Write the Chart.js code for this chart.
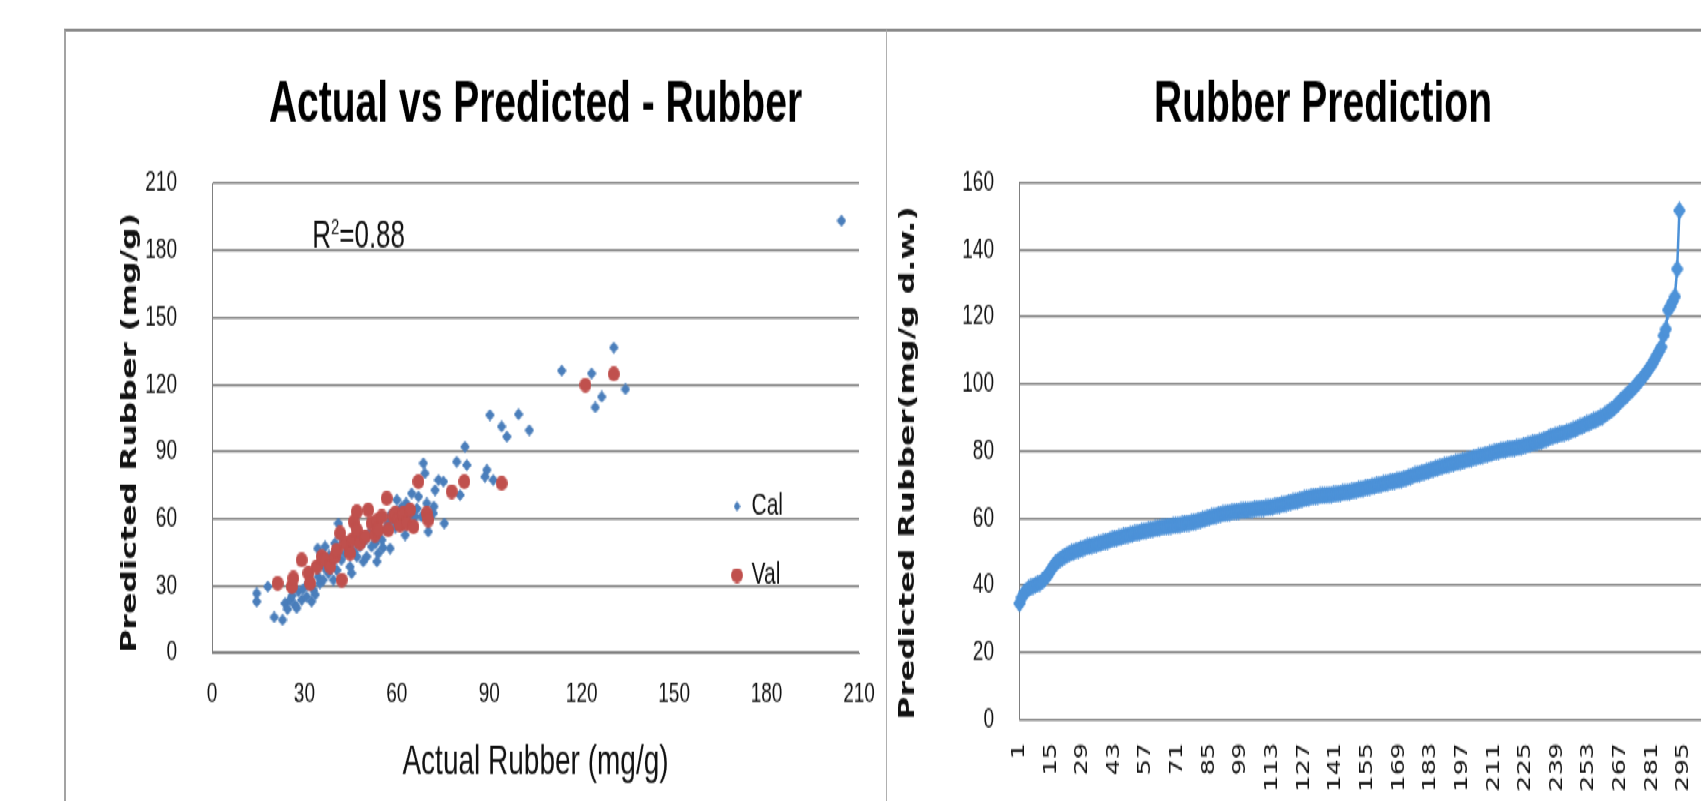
<!DOCTYPE html>
<html>
<head>
<meta charset="utf-8">
<title>Rubber prediction</title>
<script src="https://cdn.jsdelivr.net/npm/chart.js@4.4.1/dist/chart.umd.min.js"></script>
<style>
  html, body { margin: 0; padding: 0; background: #fff; }
  body { width: 1701px; height: 801px; overflow: hidden; position: relative; }
  /* the original screenshot is stretched vertically: draw flat, then stretch */
  #stage { position: absolute; left: 0; top: 0; width: 1701px; height: 534px; transform: scaleY(1.5); transform-origin: 0 0; }
  .frame { position: absolute; top: 18.7px; height: 520px; box-sizing: border-box; border-top: 2px solid #8a8a8a; }
  #leftFrame { left: 64px; width: 823px; border-left: 2px solid #a3a3a3; border-right: 1px solid #b0b0b0; }
  #rightFrame { left: 887px; width: 814px; }
  canvas { position: absolute; top: 20px; }
  #scatterChart { left: 66px; }
  #lineChart { left: 887px; }
</style>
</head>
<body>
<div id="stage">
  <div class="frame" id="leftFrame"></div>
  <div class="frame" id="rightFrame"></div>
  <canvas id="scatterChart" width="820" height="514"></canvas>
  <canvas id="lineChart" width="880" height="514"></canvas>
</div>
<script>
// --- data ---
const calActual = [14.5, 14.5, 18.1, 20.2, 22.9, 23.7, 24.5, 25.3, 26.0, 26.9, 27.5, 28.0, 29.1, 29.5, 30.7, 31.0,
  32.3, 32.9, 33.5, 34.3, 34.5, 35.0, 36.1, 36.5, 36.7, 37.8, 38.0, 38.8, 39.4, 39.9, 40.5, 41.0, 41.6, 42.0,
  43.2, 44.0, 44.8, 45.3, 46.0, 47.0, 47.5, 48.0, 49.1, 49.5, 50.2, 51.0, 51.8, 52.5, 53.0, 53.5, 54.0, 55.1,
  55.5, 56.2, 57.2, 57.8, 58.0, 58.9, 59.5, 60.0, 61.0, 61.5, 62.1, 62.7, 63.0, 63.7, 64.8, 65.9, 66.5, 67.0,
  68.0, 68.6, 69.1, 69.7, 70.2, 70.5, 71.8, 72.0, 72.4, 73.5, 75.1, 75.4, 79.4, 80.5, 82.1, 82.7, 88.6, 89.2,
  90.2, 91.3, 94.0, 95.7, 99.5, 103.0, 113.5, 123.2, 124.4, 126.5, 130.4, 134.2, 204.3];
const calPredicted = [26.6, 22.9, 29.6, 15.9, 14.7, 22.1, 19.5, 23.6, 25.5, 21.4, 20.0, 27.4, 23.6, 28.5, 25.1, 30.5,
  22.9, 28.1, 26.0, 46.7, 34.0, 31.1, 32.6, 38.0, 47.5, 35.6, 43.5, 40.0, 32.6, 49.0, 37.0, 57.9, 52.0, 41.5,
  44.5, 48.0, 38.5, 35.6, 45.5, 43.0, 52.5, 47.5, 40.8, 50.0, 43.0, 53.5, 47.5, 58.0, 49.0, 40.8, 44.5, 50.5,
  47.0, 55.0, 57.9, 46.7, 62.0, 59.4, 56.0, 68.4, 63.9, 65.0, 59.4, 52.7, 67.0, 60.9, 71.3, 60.9, 64.5, 69.9,
  61.0, 84.8, 80.3, 66.9, 54.2, 60.0, 62.4, 65.5, 72.8, 77.3, 76.6, 57.9, 85.5, 70.6, 92.2, 84.0, 78.8, 81.8,
  106.4, 77.3, 101.2, 96.7, 106.7, 99.6, 126.2, 125.0, 109.8, 114.5, 136.6, 117.9, 193.3];
const valActual = [21.3, 25.9, 26.4, 29.1, 31.3, 31.8, 34.0, 35.6, 36.7, 38.3, 39.9, 40.5, 41.6, 42.1, 43.2, 44.8,
  45.5, 46.0, 47.0, 47.0, 48.0, 49.7, 50.7, 51.8, 52.9, 53.5, 54.0, 55.1, 56.7, 57.2, 58.9, 59.5, 60.5, 61.0,
  62.1, 63.2, 64.3, 65.4, 67.0, 69.7, 70.2, 77.8, 81.9, 94.0, 121.2, 130.4];
const valPredicted = [31.1, 29.6, 33.3, 41.5, 35.6, 31.1, 38.5, 43.0, 41.5, 38.5, 43.0, 46.0, 53.5, 32.6, 49.0, 44.5,
  50.5, 58.5, 63.1, 55.0, 49.0, 52.0, 63.9, 57.9, 52.7, 59.0, 55.0, 60.9, 69.1, 55.0, 60.9, 62.5, 59.4, 57.0,
  62.4, 57.9, 63.9, 56.4, 76.6, 62.4, 59.4, 72.1, 76.6, 75.8, 119.8, 124.7];
const scatterTicks = [0, 30, 60, 90, 120, 150, 180, 210];
const r2Text = ['R', '2', '=0.88'];
const r2At = [32.5, 181];

// sorted predictions, one per sample
const predictedRubber = [
  34.6, 36.4, 37.7, 38.5, 39.0, 39.4, 39.8, 40.1, 40.4, 40.7,
  41.2, 41.9, 42.6, 43.6, 44.7, 45.8, 46.6, 47.2, 47.8, 48.3,
  48.7, 49.1, 49.4, 49.7, 50.0, 50.3, 50.5, 50.8, 51.0, 51.3,
  51.5, 51.7, 51.9, 52.0, 52.2, 52.4, 52.6, 52.8, 53.0, 53.2,
  53.5, 53.7, 53.9, 54.0, 54.2, 54.4, 54.6, 54.8, 55.0, 55.1,
  55.3, 55.5, 55.6, 55.8, 56.0, 56.2, 56.3, 56.4, 56.6, 56.7,
  56.9, 57.0, 57.2, 57.3, 57.4, 57.5, 57.6, 57.7, 57.8, 57.9,
  58.0, 58.1, 58.2, 58.4, 58.5, 58.6, 58.7, 58.9, 59.0, 59.2,
  59.4, 59.6, 59.8, 60.0, 60.2, 60.4, 60.6, 60.8, 61.0, 61.2,
  61.3, 61.4, 61.6, 61.7, 61.8, 61.9, 62.0, 62.1, 62.2, 62.3,
  62.3, 62.4, 62.5, 62.6, 62.7, 62.8, 62.9, 63.0, 63.0, 63.1,
  63.2, 63.3, 63.4, 63.6, 63.8, 63.9, 64.1, 64.2, 64.4, 64.6,
  64.8, 64.9, 65.1, 65.2, 65.4, 65.6, 65.8, 66.0, 66.1, 66.3,
  66.4, 66.5, 66.6, 66.7, 66.8, 66.8, 66.9, 67.0, 67.0, 67.1,
  67.2, 67.3, 67.4, 67.6, 67.7, 67.8, 67.9, 68.0, 68.2, 68.4,
  68.5, 68.7, 68.8, 69.0, 69.2, 69.3, 69.5, 69.6, 69.8, 69.9,
  70.1, 70.3, 70.4, 70.6, 70.8, 70.9, 71.1, 71.2, 71.4, 71.5,
  71.7, 71.9, 72.2, 72.4, 72.6, 72.9, 73.1, 73.3, 73.5, 73.7,
  73.9, 74.1, 74.4, 74.6, 74.8, 75.0, 75.2, 75.4, 75.6, 75.8,
  76.0, 76.2, 76.3, 76.5, 76.7, 76.9, 77.0, 77.2, 77.4, 77.6,
  77.8, 78.0, 78.2, 78.3, 78.5, 78.7, 78.9, 79.0, 79.2, 79.4,
  79.6, 79.8, 80.0, 80.2, 80.3, 80.4, 80.6, 80.7, 80.8, 80.9,
  81.0, 81.2, 81.3, 81.5, 81.7, 81.9, 82.1, 82.3, 82.5, 82.6,
  82.8, 83.0, 83.3, 83.6, 83.9, 84.2, 84.4, 84.6, 84.8, 85.0,
  85.2, 85.4, 85.6, 85.8, 86.0, 86.3, 86.6, 86.9, 87.2, 87.5,
  87.8, 88.1, 88.4, 88.7, 89.0, 89.3, 89.6, 89.9, 90.3, 90.8,
  91.3, 91.8, 92.3, 92.8, 93.5, 94.2, 95.0, 95.6, 96.2, 96.9,
  97.6, 98.2, 98.9, 99.7, 100.5, 101.3, 102.1, 103.0, 104.0, 105.0,
  106.0, 107.2, 108.5, 109.7, 111.0, 114.4, 116.3, 122.0, 123.0, 124.5,
  126.0, 134.2, 151.6];
const sampleCount = 328;   // rows on the category axis (the rest of the chart is cut off)
const labelEvery = 14;
const lineTicks = [0, 20, 40, 60, 80, 100, 120, 140, 160];

const calBlue = '#4a7ebb';
const valRed = '#c0504d';
const lineBlue = '#4d92d8';
const gridGrey = '#808080';
const textColor = '#111';

// markers are drawn squashed because the page gets stretched later
function diamond(w, h, color) {
    const c = document.createElement('canvas');
    c.width = w; c.height = h;
    const g = c.getContext('2d');
    g.fillStyle = color;
    g.beginPath();
    g.moveTo(w / 2, 0); g.lineTo(w, h / 2); g.lineTo(w / 2, h); g.lineTo(0, h / 2);
    g.closePath();
    g.fill();
    return c;
}
function oval(w, h, color) {
    const c = document.createElement('canvas');
    c.width = w; c.height = h;
    const g = c.getContext('2d');
    g.fillStyle = color;
    g.beginPath();
    g.ellipse(w / 2, h / 2, w / 2, h / 2, 0, 0, Math.PI * 2);
    g.fill();
    return c;
}
const calMark = diamond(10, 8, calBlue);
const calLegendMark = diamond(7, 7, calBlue);
const valMark = oval(12, 10, valRed);
const lineMark = diamond(13, 12, lineBlue);

// fixed axis boxes, and no extra room for edge labels
function fixHeight(h) {
    return s => { s.height = h; s.paddingLeft = 0; s.paddingRight = 0; };
}
function fixWidth(w) {
    return s => { s.width = w; s.paddingTop = 0; s.paddingBottom = 0; };
}

// legend sits inside the plot, to the right
const legendSpot = {
    id: 'legendSpot',
    afterLayout(chart, args, opts) {
        const lg = chart.legend;
        if (!lg) return;
        lg.left = opts.left;
        lg.top = opts.top;
        lg.right = lg.left + lg.width;
        lg.bottom = lg.top + lg.height;
    }
};

const r2Note = {
    id: 'r2Note',
    afterDatasetsDraw(chart) {
        const { ctx, scales } = chart;
        let x = scales.x.getPixelForValue(r2At[0]);
        const y = scales.y.getPixelForValue(r2At[1]);
        ctx.save();
        ctx.fillStyle = textColor;
        ctx.textBaseline = 'alphabetic';
        ctx.textAlign = 'left';
        ctx.font = '26px "Liberation Sans"';
        ctx.fillText(r2Text[0], x, y);
        x += ctx.measureText(r2Text[0]).width;
        ctx.font = '15px "Liberation Sans"';
        ctx.fillText(r2Text[1], x, y - 9);
        x += ctx.measureText(r2Text[1]).width;
        ctx.font = '26px "Liberation Sans"';
        ctx.fillText(r2Text[2], x, y);
        ctx.restore();
    }
};

const tickFont = { family: 'Liberation Sans', size: 19 };
const titleFont = { family: 'Liberation Sans', size: 39, weight: 'bold' };
const yTitleFont = { family: 'DejaVu Sans', size: 21, weight: 'bold' };

// --- left: actual vs predicted ---
new Chart(document.getElementById('scatterChart'), {
    type: 'scatter',
    data: {
        datasets: [
            {
                label: 'Cal',
                data: calActual.map((a, i) => ({ x: a, y: calPredicted[i] })),
                pointStyle: calMark,
                pointRadius: 5,
                order: 1
            },
            {
                label: 'Val',
                data: valActual.map((a, i) => ({ x: a, y: valPredicted[i] })),
                pointStyle: valMark,
                pointRadius: 6,
                order: 0
            }
        ]
    },
    options: {
        responsive: false,
        animation: false,
        layout: { padding: { left: 0, right: 27, top: 0, bottom: 3.9 } },
        scales: {
            x: {
                type: 'linear', min: 0, max: 210,
                afterBuildTicks: s => { s.ticks = scatterTicks.map(v => ({ value: v })); },
                afterFit: fixHeight(95),
                grid: { display: false, drawTicks: false },
                border: { display: true, color: gridGrey, width: 1 },
                ticks: { padding: 16, color: textColor, font: tickFont },
                title: {
                    display: true, text: 'Actual Rubber (mg/g)', color: textColor,
                    font: { family: 'Liberation Sans', size: 28 },
                    padding: { top: 0, bottom: 5.3 }
                }
            },
            y: {
                type: 'linear', min: 0, max: 210,
                afterBuildTicks: s => { s.ticks = scatterTicks.map(v => ({ value: v })); },
                afterFit: fixWidth(146),
                grid: { color: gridGrey, lineWidth: 1.4, drawTicks: false },
                border: { display: true, color: gridGrey, width: 1 },
                ticks: { padding: 35, color: textColor, font: tickFont },
                title: {
                    display: true, text: 'Predicted Rubber (mg/g)', color: textColor,
                    font: yTitleFont, align: 'start',
                    padding: { top: 52.4, bottom: 0 }
                }
            }
        },
        plugins: {
            title: {
                display: true, fullSize: false, text: 'Actual vs Predicted - Rubber', color: '#000',
                font: titleFont, padding: { top: 27, bottom: 28.4 }
            },
            legend: {
                position: 'chartArea',
                align: 'start',
                labels: {
                    usePointStyle: true,
                    boxWidth: 8,
                    padding: 25,
                    color: textColor,
                    font: { family: 'Liberation Sans', size: 21 },
                    generateLabels(chart) {
                        const items = Chart.defaults.plugins.legend.labels.generateLabels(chart);
                        items.sort((a, b) => a.datasetIndex - b.datasetIndex);
                        items[0].pointStyle = calLegendMark;
                        items[1].pointStyle = valMark;
                        return items;
                    }
                }
            },
            legendSpot: { left: 642, top: 282 },
            tooltip: { enabled: false }
        }
    },
    plugins: [legendSpot, r2Note]
});

// --- right: sorted predictions ---
const sampleNo = Array.from({ length: sampleCount }, (_, i) => String(i + 1));

new Chart(document.getElementById('lineChart'), {
    type: 'line',
    data: {
        labels: sampleNo,
        datasets: [{
            label: 'Predicted Rubber',
            data: predictedRubber,
            borderColor: lineBlue,
            backgroundColor: lineBlue,
            borderWidth: 2.5,
            pointStyle: lineMark,
            pointRadius: 6,
            fill: false,
            tension: 0
        }]
    },
    options: {
        responsive: false,
        animation: false,
        layout: { padding: { left: 0, right: 8, top: 0, bottom: 0 } },
        scales: {
            x: {
                type: 'category',
                offset: false,
                afterFit: fixHeight(54.3),
                grid: { display: false, drawTicks: false },
                border: { display: true, color: gridGrey, width: 1 },
                ticks: {
                    autoSkip: false,
                    minRotation: 90,
                    maxRotation: 90,
                    padding: 15.5,
                    color: textColor,
                    font: { family: 'DejaVu Sans', size: 17 },
                    callback(value, index) {
                        return index % labelEvery === 0 ? this.getLabelForValue(value) : null;
                    }
                }
            },
            y: {
                type: 'linear', min: 0, max: 160,
                afterBuildTicks: s => { s.ticks = lineTicks.map(v => ({ value: v })); },
                afterFit: fixWidth(132.5),
                grid: { color: gridGrey, lineWidth: 1.4, drawTicks: false },
                border: { display: true, color: gridGrey, width: 1 },
                ticks: { padding: 25.5, color: textColor, font: tickFont },
                title: {
                    display: true, text: 'Predicted Rubber(mg/g d.w.)', color: textColor,
                    font: yTitleFont, align: 'start',
                    padding: { top: 9.4, bottom: 0 }
                }
            }
        },
        plugins: {
            title: {
                display: true, text: 'Rubber Prediction', color: '#000',
                font: titleFont, padding: { top: 27, bottom: 27.7 }
            },
            legend: { display: false },
            tooltip: { enabled: false }
        }
    }
});
</script>
</body>
</html>
